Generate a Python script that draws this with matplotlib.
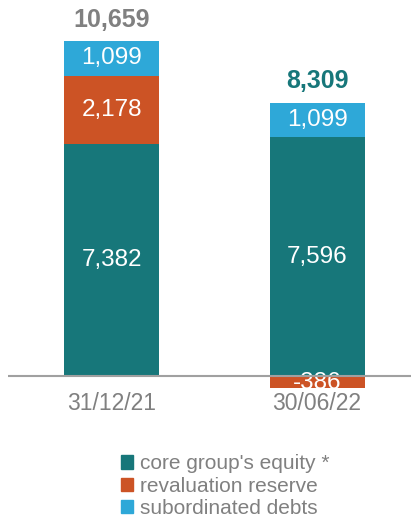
import matplotlib.pyplot as plt
from matplotlib.patches import Patch

plt.rcParams['font.family'] = ['Liberation Sans', 'DejaVu Sans']

periods = ['31/12/21', '30/06/22']
core_equity = [7382, 7596]
revaluation = [2178, -386]
subordinated = [1099, 1099]
totals = [10659, 8309]

teal = '#17777a'
orange = '#cc5325'
blue = '#2ea8d8'
grey = '#808080'

fig = plt.figure(figsize=(4.11, 5.18), dpi=100)
ax = fig.add_axes([8 / 411, 1 - 400 / 518, 1 - 8 / 411, 380 / 518])

x = list(range(len(periods)))
w = 0.462

# stack: positive parts on top of each other, negatives below zero
for i in x:
    base = 0
    ax.bar(i, core_equity[i], w, bottom=base, color=teal)
    ax.text(i, base + core_equity[i] / 2, f'{core_equity[i]:,}', ha='center',
            va='center', color='white', fontsize=17.5)
    base += core_equity[i]
    if revaluation[i] >= 0:
        ax.bar(i, revaluation[i], w, bottom=base, color=orange)
        ax.text(i, base + revaluation[i] / 2, f'{revaluation[i]:,}',
                ha='center', va='center', color='white', fontsize=17.5)
        base += revaluation[i]
    else:
        neg = ax.bar(i, revaluation[i], w, bottom=0, color=orange)
        t = ax.text(i, revaluation[i] / 2 - 40, f'{revaluation[i]:,}',
                    ha='center', va='center', color='white', fontsize=17.5,
                    zorder=1)
        t.set_clip_path(neg.patches[0])  # label cut off by the thin bar
    ax.bar(i, subordinated[i], w, bottom=base, color=blue)
    ax.text(i, base + subordinated[i] / 2, f'{subordinated[i]:,}',
            ha='center', va='center', color='white', fontsize=17.5)
    base += subordinated[i]
    ax.text(i, base + 300, f'{totals[i]:,}', ha='center', va='bottom',
            color=grey if i == 0 else teal, fontsize=18, fontweight='bold')

ax.axhline(0, color='#a0a0a0', linewidth=1.5, zorder=3)
ax.set_xlim(-0.504, 1.457)
ax.set_ylim(-764, 11328)
ax.set_xticks(x)
ax.set_xticklabels(periods, fontsize=16.5, color=grey)
ax.tick_params(axis='x', length=0, pad=-6)
ax.set_yticks([])
for s in ax.spines.values():
    s.set_visible(False)

handles = [Patch(color=teal, label="core group's equity *"),
           Patch(color=orange, label='revaluation reserve'),
           Patch(color=blue, label='subordinated debts')]
fig.legend(handles=handles, loc='center', bbox_to_anchor=(225 / 411, 1 - 486 / 518),
           frameon=False, fontsize=15, labelcolor=grey, handlelength=0.6,
           handleheight=0.6, handletextpad=0.3, labelspacing=0.15,
           borderaxespad=0)

fig.savefig('out.png', dpi=100)
